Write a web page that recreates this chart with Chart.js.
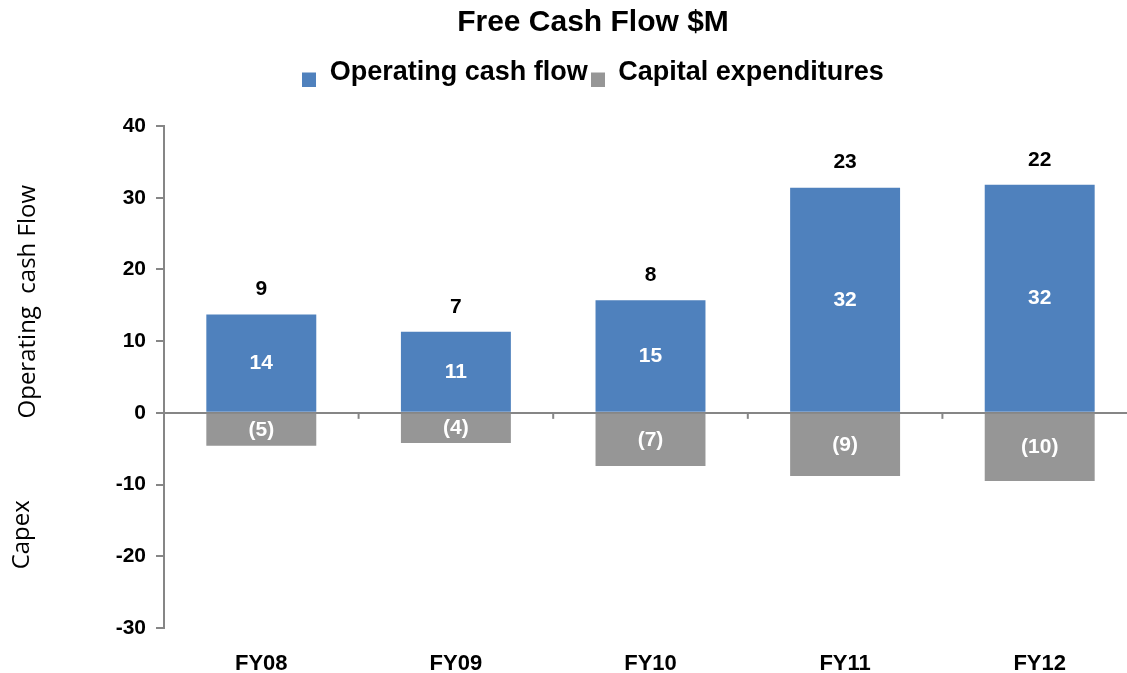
<!DOCTYPE html>
<html lang="en">
<head>
    <meta charset="UTF-8">
    <title>Free Cash Flow $M</title>
    <script src="https://cdn.jsdelivr.net/npm/chart.js"></script>
    <style>
        body { margin: 0; padding: 0; background: #fff; overflow: hidden; }
        .wrap { width: 1127px; height: 673px; overflow: hidden; }
    </style>
</head>
<body>
    <div class="wrap">
        <canvas id="fcfChart" width="1186" height="673"></canvas>
    </div>

    <script>
        // data
        const years = ["FY08", "FY09", "FY10", "FY11", "FY12"];
        const operatingCash = [13.7, 11.3, 15.7, 31.4, 31.8];
        const capex = [-4.6, -4.2, -7.4, -8.8, -9.5];
        const opLabels = ["14", "11", "15", "32", "32"];
        const capexLabels = ["(5)", "(4)", "(7)", "(9)", "(10)"];
        const fcfLabels = ["9", "7", "8", "23", "22"];
        const yTicks = [-30, -20, -10, 0, 10, 20, 30, 40];

        const blue = "#4F81BD";
        const grey = "#969696";
        const axisGrey = "#868686";
        const fontFamily = "Arial, 'Liberation Sans', sans-serif";
        const boldFont = "bold 21px " + fontFamily;

        // legend swatch sitting low, on the text baseline
        function swatch(color) {
            const c = document.createElement("canvas");
            c.width = 14;
            c.height = 28;
            const g = c.getContext("2d");
            g.fillStyle = color;
            g.fillRect(0, 14, 14, 14);
            return c;
        }

        // value labels, zero-axis ticks and the two-part y title
        const extrasPlugin = {
            id: "extras",
            afterDatasetsDraw(chart) {
                const ctx = chart.ctx;
                const opMeta = chart.getDatasetMeta(0);
                const cxMeta = chart.getDatasetMeta(1);
                ctx.save();
                ctx.textAlign = "center";
                ctx.textBaseline = "middle";
                ctx.font = boldFont;
                opMeta.data.forEach((bar, i) => {
                    ctx.fillStyle = "#fff";
                    ctx.fillText(opLabels[i], bar.x, (bar.y + bar.base) / 2);
                    ctx.fillStyle = "#000";
                    ctx.fillText(fcfLabels[i], bar.x, bar.y - 25);
                });
                cxMeta.data.forEach((bar, i) => {
                    ctx.fillStyle = "#fff";
                    ctx.fillText(capexLabels[i], bar.x, (bar.y + bar.base) / 2);
                });

                // small ticks under the zero line between categories
                const x = chart.scales.x, y = chart.scales.y;
                const y0 = y.getPixelForValue(0);
                ctx.strokeStyle = axisGrey;
                ctx.lineWidth = 2;
                for (let i = 0; i < years.length - 1; i++) {
                    const px = (x.getPixelForValue(i) + x.getPixelForValue(i + 1)) / 2;
                    ctx.beginPath();
                    ctx.moveTo(px, y0);
                    ctx.lineTo(px, y0 + 6);
                    ctx.stroke();
                }

                // axis title split into two parts
                ctx.fillStyle = "#000";
                ctx.font = "24px 'Open Sans', 'DejaVu Sans', sans-serif";
                const yA = y.getPixelForValue(15.5);
                const yB = y.getPixelForValue(-17);
                ctx.save();
                ctx.translate(28, yA);
                ctx.rotate(-Math.PI / 2);
                ctx.fillText("Operating  cash Flow", 0, 0);
                ctx.restore();
                ctx.translate(22, yB);
                ctx.rotate(-Math.PI / 2);
                ctx.fillText("Capex", 0, 0);
                ctx.restore();
            }
        };

        new Chart(document.getElementById("fcfChart"), {
            type: "bar",
            data: {
                labels: years,
                datasets: [
                    {
                        label: "Operating cash flow",
                        data: operatingCash,
                        backgroundColor: blue,
                        pointStyle: swatch(blue),
                        stack: "s"
                    },
                    {
                        label: "Capital expenditures",
                        data: capex,
                        backgroundColor: grey,
                        pointStyle: swatch(grey),
                        stack: "s"
                    }
                ]
            },
            options: {
                responsive: false,
                animation: false,
                layout: { padding: { left: 49, right: 49, top: 0, bottom: 0 } },
                datasets: {
                    bar: { categoryPercentage: 1.0, barPercentage: 0.565 }
                },
                plugins: {
                    title: {
                        display: true,
                        text: "Free Cash Flow $M",
                        color: "#000",
                        font: { family: fontFamily, size: 30, weight: "bold" },
                        padding: { top: 5, bottom: 15 }
                    },
                    legend: {
                        display: true,
                        position: "top",
                        labels: {
                            color: "#000",
                            usePointStyle: true,
                            boxWidth: 14,
                            boxHeight: 14,
                            padding: 3,
                            font: { family: fontFamily, size: 27, weight: "bold" }
                        }
                    },
                    tooltip: { enabled: false }
                },
                scales: {
                    x: {
                        stacked: true,
                        grid: { display: false },
                        border: { display: false },
                        ticks: {
                            color: "#000",
                            padding: 15,
                            font: { family: fontFamily, size: 22, weight: "bold" }
                        },
                        afterFit(scale) { scale.height = 45; }
                    },
                    xTop: {
                        type: "category",
                        position: "top",
                        grid: { display: false },
                        border: { display: false },
                        ticks: { display: false },
                        afterFit(scale) { scale.height = 30; }
                    },
                    y: {
                        stacked: true,
                        min: -30,
                        max: 40,
                        afterBuildTicks(scale) {
                            scale.ticks = yTicks.map(v => ({ value: v }));
                        },
                        afterFit(scale) { scale.width = 115; },
                        border: { display: true, color: axisGrey, width: 2 },
                        grid: {
                            lineWidth: 2,
                            tickLength: 8,
                            tickColor: axisGrey,
                            color: c => (c.tick && c.tick.value === 0 ? axisGrey : "rgba(0,0,0,0)")
                        },
                        ticks: {
                            color: "#000",
                            padding: 10,
                            font: { family: fontFamily, size: 21, weight: "bold" }
                        }
                    }
                }
            },
            plugins: [extrasPlugin]
        });
    </script>
</body>
</html>
